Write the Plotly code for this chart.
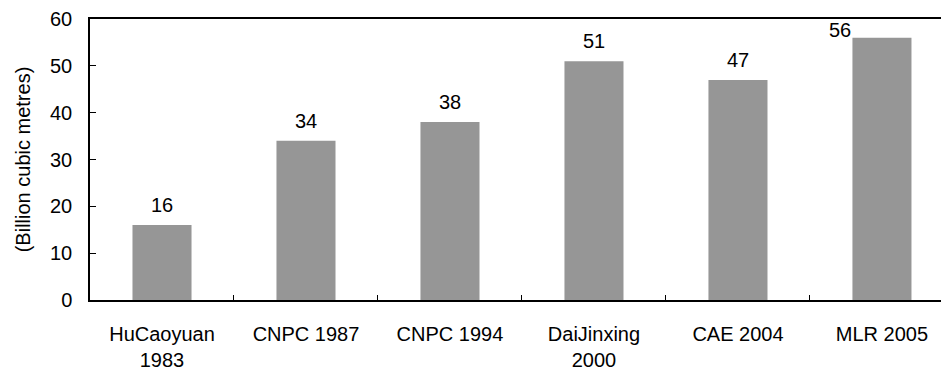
import plotly.graph_objects as go

# Estimates of recoverable resource by source and year
categories = ["HuCaoyuan<br>1983", "CNPC 1987", "CNPC 1994",
              "DaiJinxing<br>2000", "CAE 2004", "MLR 2005"]
values = [16, 34, 38, 51, 47, 56]
y_ticks = [0, 10, 20, 30, 40, 50, 60]

FONT = "Liberation Sans, Arial, sans-serif"
BAR_COLOR = "#969696"

fig = go.Figure()
fig.add_trace(go.Bar(
    x=categories,
    y=values,
    width=0.41,
    marker=dict(color=BAR_COLOR, line=dict(width=0)),
    hoverinfo="x+y",
))

# value labels above each bar; the last one sits left of centre, tight to the top
for i, (c, v) in enumerate(zip(categories, values)):
    last = i == len(values) - 1
    fig.add_annotation(
        x=c, y=v, text=str(v), showarrow=False,
        xanchor="center", yanchor="bottom",
        yshift=-5 if last else 7,
        xshift=-42 if last else 0,
        font=dict(family=FONT, size=20, color="#000000"),
    )

fig.update_layout(
    width=941, height=372,
    margin=dict(l=90, r=0, t=19, b=72),
    paper_bgcolor="white", plot_bgcolor="white",
    showlegend=False,
    font=dict(family=FONT, size=20, color="#000000"),
    xaxis=dict(
        type="category",
        range=[-0.5, 5.41],
        showline=True, linecolor="#000000", linewidth=1.5,
        mirror=True,
        ticks="inside", ticklen=5, tickcolor="#000000", tickwidth=1,
        tickson="boundaries",
        showgrid=False, zeroline=False,
        tickfont=dict(family=FONT, size=20, color="#000000"),
        ticklabelstandoff=15,
    ),
    yaxis=dict(
        range=[0, 60],
        tickvals=y_ticks,
        showline=True, linecolor="#000000", linewidth=1.5,
        ticks="inside", ticklen=6, tickcolor="#000000", tickwidth=1,
        showgrid=False, zeroline=False,
        tickfont=dict(family=FONT, size=20, color="#000000"),
        ticklabelstandoff=12,
        title=dict(text="(Billion cubic metres)", standoff=14,
                   font=dict(family=FONT, size=20, color="#000000")),
    ),
)

fig.write_html("out.html")
